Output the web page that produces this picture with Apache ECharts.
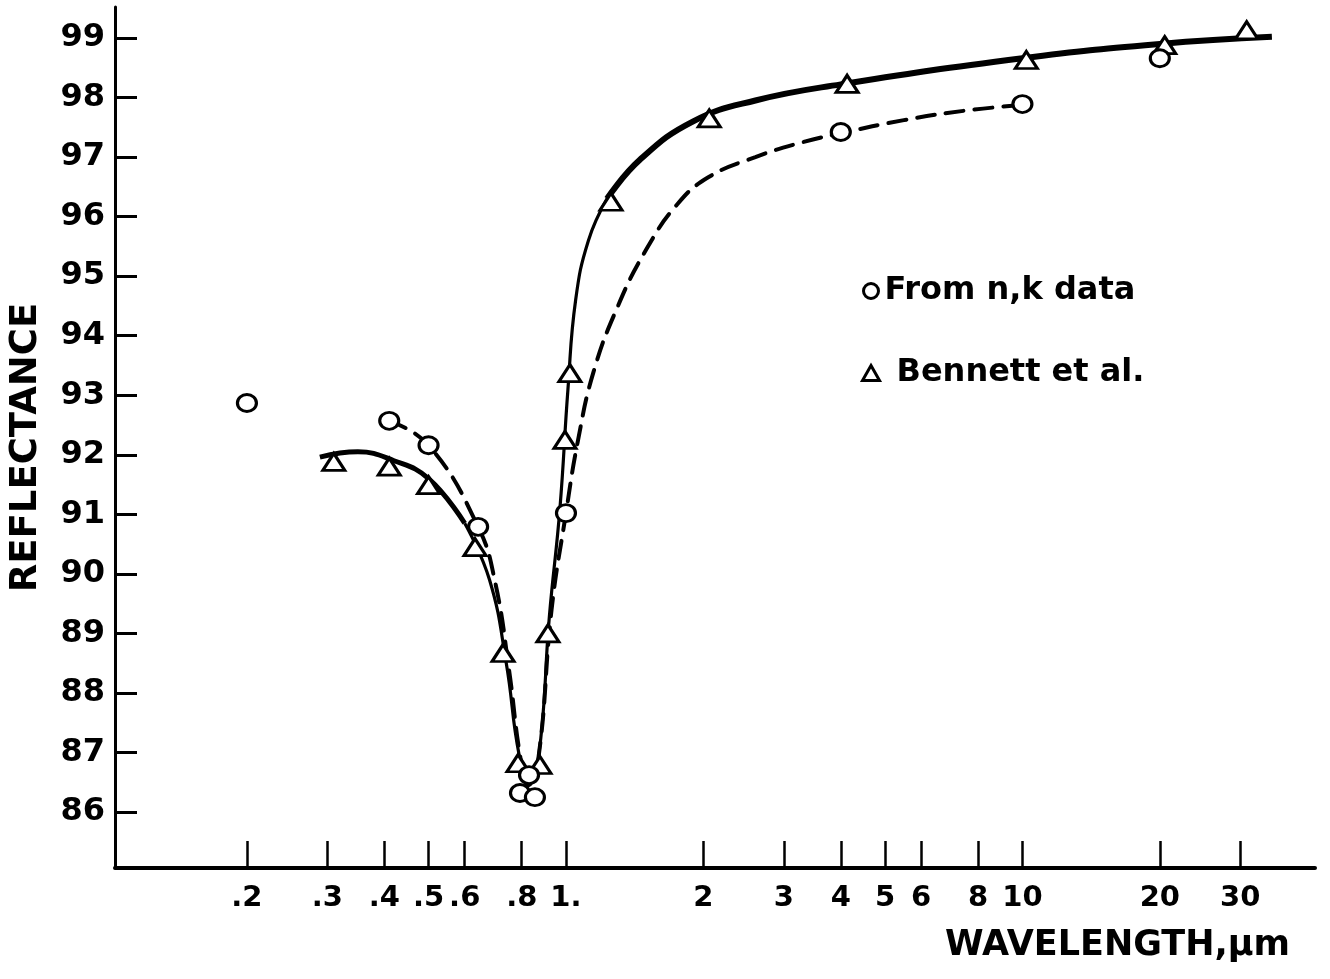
<!DOCTYPE html>
<html>
<head>
<meta charset="utf-8">
<script src="https://cdn.jsdelivr.net/npm/echarts@6/dist/echarts.min.js"></script>
<style>
  html, body { margin: 0; padding: 0; background: #fff; }
  #chart { width: 1330px; height: 979px; }
</style>
</head>
<body>
<div id="chart"></div>
<script>
// Reflectance (%) versus wavelength (µm)

// Computed from optical constants (n, k)
const nkWavelength  = [0.2, 0.41, 0.5, 0.642, 0.793, 0.83, 0.855, 1.0, 4.0, 10.0, 20.0];
const nkReflectance = [92.87, 92.57, 92.16, 90.79, 86.32, 86.62, 86.25, 91.02, 97.42, 97.89, 98.66];

// Measured values, Bennett et al.
const bennettWavelength  = [0.31, 0.41, 0.5, 0.632, 0.728, 0.785, 0.877, 0.913, 0.995, 1.02, 1.255, 2.06, 4.13, 10.2, 20.5, 31];
const bennettReflectance = [91.88, 91.8, 91.49, 90.45, 88.67, 86.82, 86.79, 89.0, 92.25, 93.37, 96.25, 97.65, 98.23, 98.63, 98.88, 99.13];

// Hand-drawn trend through the Bennett points (solid)
const bennettCurveWavelength  = [0.289, 0.35, 0.42, 0.5, 0.6, 0.68, 0.74, 0.79, 0.826, 0.87, 0.92, 0.97, 1.01, 1.05, 1.12, 1.23, 1.45, 1.9, 2.6, 4.0, 10, 20, 35.2];
const bennettCurveReflectance = [91.96, 92.05, 91.9, 91.6, 90.85, 89.9, 88.5, 86.95, 86.62, 86.9, 89.3, 91.1, 93.1, 94.6, 95.6, 96.3, 96.95, 97.6, 97.95, 98.22, 98.66, 98.9, 99.02];

// Trend through the n,k points (dashed)
const nkCurveWavelength  = [0.41, 0.5, 0.642, 0.70, 0.75, 0.795, 0.826, 0.87, 0.93, 1.0, 1.06, 1.15, 1.3, 1.5, 1.75, 2.05, 2.6, 3.3, 4.0, 5.5, 7.5, 9.87];
const nkCurveReflectance = [92.57, 92.16, 90.79, 89.85, 88.4, 86.9, 86.45, 86.9, 89.4, 91.02, 92.2, 93.4, 94.5, 95.45, 96.2, 96.66, 97.0, 97.25, 97.4, 97.62, 97.78, 97.87];

// Axis ticks
const xTickValues = [0.2, 0.3, 0.4, 0.5, 0.6, 0.8, 1, 2, 3, 4, 5, 6, 8, 10, 20, 30];
const xTickLabels = ['.2', '.3', '.4', '.5', '.6', '.8', '1.', '2', '3', '4', '5', '6', '8', '10', '20', '30'];
const yTickValues = [86, 87, 88, 89, 90, 91, 92, 93, 94, 95, 96, 97, 98, 99];

const FONT = 'DejaVu Sans';
const INK = '#000';

// the wavelength axis is logarithmic: positions are log10(µm) on a linear scale
const toPoints = (xs, ys) => xs.map((x, i) => [Math.log10(x), ys[i]]);
const xLog = xTickValues.map(v => Math.log10(v));

function xLabel(value) {
  let best = 0;
  xLog.forEach((v, i) => { if (Math.abs(v - value) < Math.abs(xLog[best] - value)) best = i; });
  return xTickLabels[best];
}

const solidPts = toPoints(bennettCurveWavelength, bennettCurveReflectance);
// the curve is drawn heavier outside the absorption dip
const split1 = 4, split2 = 15;

const chart = echarts.init(document.getElementById('chart'), null, { renderer: 'canvas' });

const curveBase = {
  type: 'line',
  showSymbol: false,
  symbol: 'none',
  smooth: 0.45,
  silent: true,
  z: 2
};

chart.setOption({
  animation: false,
  backgroundColor: '#fff',
  grid: { left: 115, right: 15, top: 7, bottom: 111, containLabel: false },
  xAxis: {
    type: 'value',
    min: -0.988,
    max: 1.641,
    axisLine: { show: true, onZero: false, lineStyle: { color: INK, width: 4 } },
    axisTick: { show: true, inside: true, length: 27, lineStyle: { color: INK, width: 2.5 }, customValues: xLog },
    axisLabel: {
      customValues: xLog,
      formatter: xLabel,
      margin: 16,
      color: INK,
      fontFamily: FONT,
      fontWeight: 'bold',
      fontSize: 29
    },
    splitLine: { show: false },
    name: 'WAVELENGTH,µm',
    nameLocation: 'end',
    nameGap: -25,
    nameTextStyle: {
      align: 'right',
      verticalAlign: 'top',
      padding: [60, 0, 0, 0],
      color: INK,
      fontFamily: FONT,
      fontWeight: 'bold',
      fontSize: 35
    }
  },
  yAxis: {
    type: 'value',
    min: 85.06,
    max: 99.52,
    axisLine: { show: true, onZero: false, lineStyle: { color: INK, width: 3 } },
    axisTick: { show: true, inside: true, length: 22, lineStyle: { color: INK, width: 3 }, customValues: yTickValues },
    axisLabel: {
      customValues: yTickValues,
      margin: 10,
      color: INK,
      fontFamily: FONT,
      fontWeight: 'bold',
      fontSize: 32
    },
    splitLine: { show: false },
    name: 'REFLECTANCE',
    nameLocation: 'middle',
    nameRotate: 90,
    nameGap: 70,
    nameTextStyle: {
      color: INK,
      fontFamily: FONT,
      fontWeight: 'bold',
      fontSize: 37,
      padding: [0, 20, 0, 0]
    }
  },
  legend: {
    orient: 'vertical',
    left: 856,
    top: 270,
    itemGap: 50,
    itemWidth: 17,
    itemHeight: 15,
    selectedMode: false,
    textStyle: { color: INK, fontFamily: FONT, fontWeight: 'bold', fontSize: 32 },
    data: [
      { name: 'From n,k data', icon: 'circle', itemStyle: { color: '#fff', borderColor: INK, borderWidth: 3 } },
      { name: 'Bennett et al.', icon: 'triangle', itemStyle: { color: '#fff', borderColor: INK, borderWidth: 3 },
        textStyle: { padding: [0, 0, 0, 12] } }
    ]
  },
  series: [
    Object.assign({}, curveBase, {
      name: 'bennett-curve-left',
      data: solidPts.slice(0, split1 + 1),
      lineStyle: { color: INK, width: 5 }
    }),
    Object.assign({}, curveBase, {
      name: 'bennett-curve-dip',
      data: solidPts.slice(split1, split2 + 1),
      lineStyle: { color: INK, width: 3.2 }
    }),
    Object.assign({}, curveBase, {
      name: 'bennett-curve-right',
      data: solidPts.slice(split2),
      lineStyle: { color: INK, width: 6 }
    }),
    Object.assign({}, curveBase, {
      name: 'nk-curve',
      data: toPoints(nkCurveWavelength, nkCurveReflectance),
      lineStyle: { color: INK, width: 4, type: [18, 11], cap: 'round' }
    }),
    {
      name: 'Bennett et al.',
      type: 'scatter',
      symbol: 'triangle',
      symbolSize: [22, 17],
      data: toPoints(bennettWavelength, bennettReflectance),
      itemStyle: { color: '#fff', borderColor: INK, borderWidth: 3, opacity: 1 },
      z: 4
    },
    {
      name: 'From n,k data',
      type: 'scatter',
      symbol: 'circle',
      symbolSize: [19, 17],
      data: toPoints(nkWavelength, nkReflectance),
      itemStyle: { color: '#fff', borderColor: INK, borderWidth: 3, opacity: 1 },
      z: 5
    }
  ]
});
</script>
</body>
</html>
